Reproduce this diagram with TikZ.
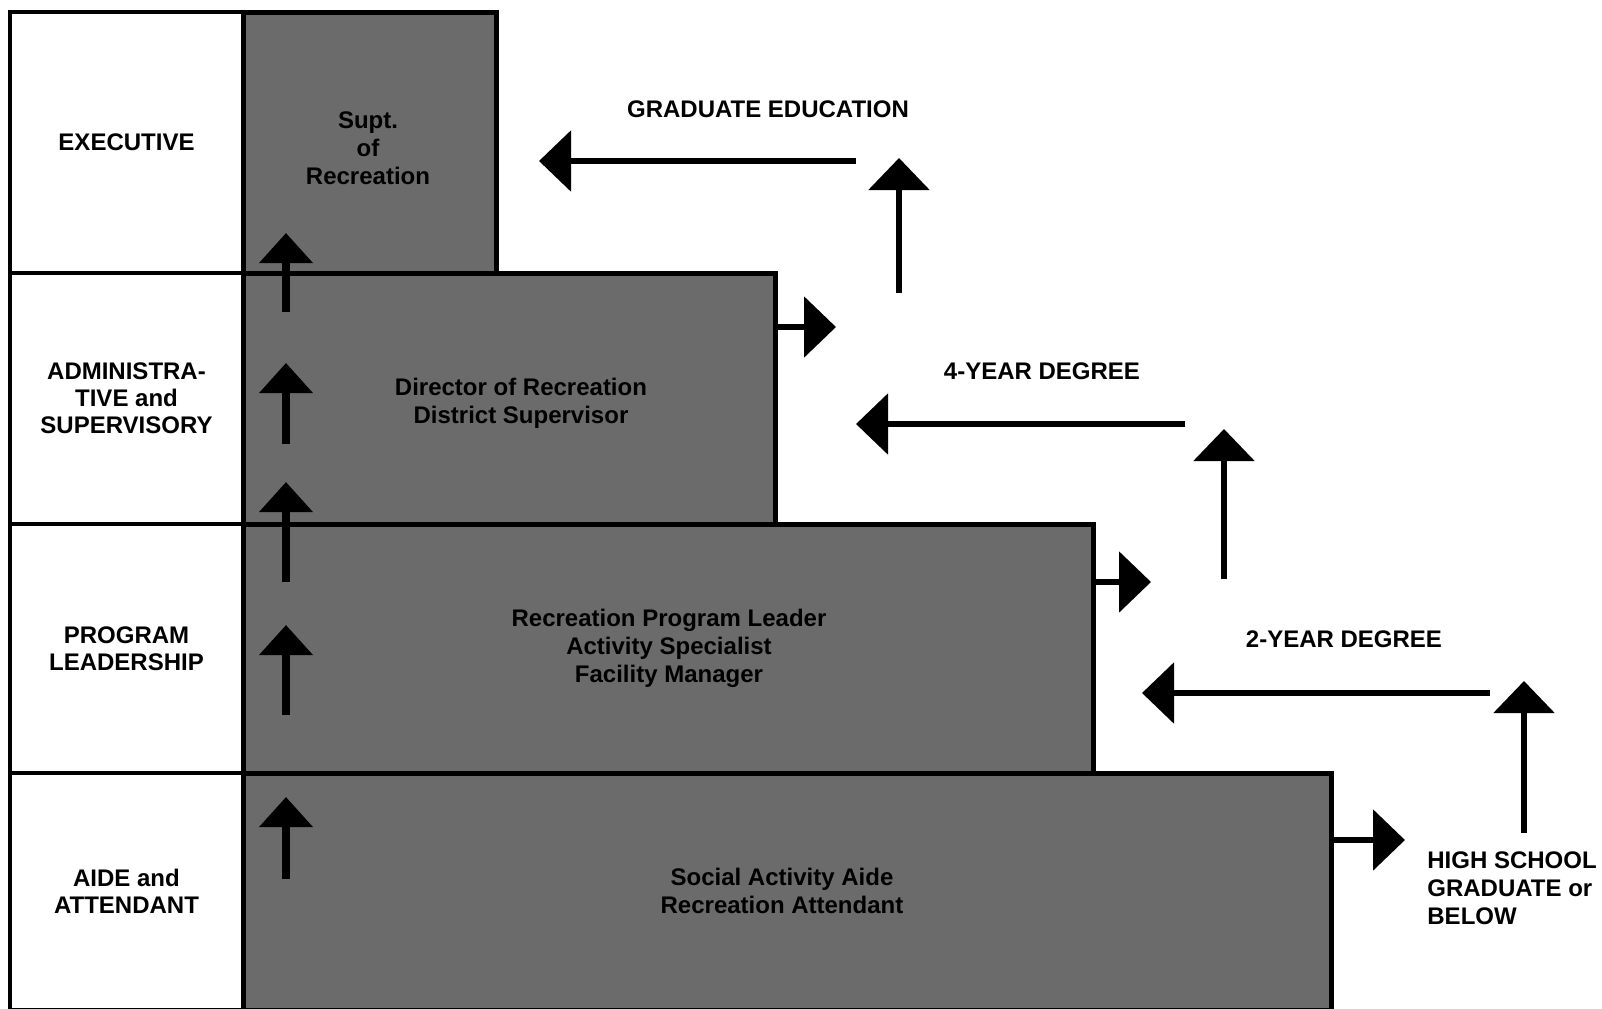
\documentclass[tikz,border=0pt]{standalone}
\usepackage{fontspec}
\setmainfont{Liberation Sans}
\usetikzlibrary{arrows.meta}
\begin{document}
\begin{tikzpicture}[x=0.5pt,y=-0.5pt,
  lbox/.style={draw=black, line width=2pt, fill=white, font=\bfseries\fontsize{12}{13.5}\selectfont, align=center, inner sep=0pt, minimum width=116.5pt},
  dbox/.style={draw=black, line width=2.5pt, fill=black!58, font=\bfseries\fontsize{12}{14}\selectfont, align=center, inner sep=0pt},
  lbl/.style={font=\bfseries\fontsize{12}{14}\selectfont, align=left, inner sep=0pt},
  colarr/.style={line width=4pt, -{Triangle[length=15pt,width=26pt]}},
  bigarr/.style={line width=3pt, -{Triangle[length=16pt,width=30pt]}},
]
\useasboundingbox (0,0) rectangle (1602,1008);
\clip (0,0) rectangle (1602,1008);
\fill[white] (0,0) rectangle (1602,1008);

% left column
\node[lbox, minimum height=130.5pt] (lexec)  at (126.5,142.5) {EXECUTIVE};
\node[lbox, minimum height=125.5pt] (ladmin) at (126.5,398.5) {ADMINISTRA-\\TIVE and\\SUPERVISORY};
\node[lbox, minimum height=124.5pt] (lprog)  at (126.5,648.5) {PROGRAM\\LEADERSHIP};
\node[lbox, minimum height=118.5pt] (laide)  at (126.5,891.5) {AIDE and\\ATTENDANT};

% dark steps
\node[dbox, minimum width=126.5pt, minimum height=130.5pt] (dexec)  at (369.5,142.5) {};
\node[dbox, minimum width=266pt,   minimum height=125.5pt] (dadmin) at (509,398.5) {};
\node[dbox, minimum width=425pt,   minimum height=124.5pt] (dprog)  at (668,648.5) {};
\node[dbox, minimum width=544pt,   minimum height=118.5pt] (daide)  at (787,891.5) {};

\node[lbl, align=center] (texec)  at (368,148) {Supt.\\of\\Recreation};
\node[lbl, align=center] (tadmin) at (521,403) {Director of Recreation\\District Supervisor};
\node[lbl, align=center] (tprog)  at (669,648) {Recreation Program Leader\\Activity Specialist\\Facility Manager};
\node[lbl, align=center] (taide)  at (782,891) {Social Activity Aide\\Recreation Attendant};

% column arrows
\coordinate (c1a) at (286,312); \coordinate (c1b) at (286,233);
\coordinate (c2a) at (286,444); \coordinate (c2b) at (286,363);
\coordinate (c3a) at (286,582); \coordinate (c3b) at (286,482);
\coordinate (c4a) at (286,715); \coordinate (c4b) at (286,625);
\coordinate (c5a) at (286,879); \coordinate (c5b) at (286,797);
\draw[colarr] (c1a) -- (c1b);
\draw[colarr] (c2a) -- (c2b);
\draw[colarr] (c3a) -- (c3b);
\draw[colarr] (c4a) -- (c4b);
\draw[colarr] (c5a) -- (c5b);

% graduate education
\coordinate (r1) at (836,327);
\coordinate (u1a) at (899,293); \coordinate (u1b) at (899,158);
\coordinate (l1a) at (856,161); \coordinate (l1b) at (539,161);
\draw[bigarr] (dadmin.east |- r1) -- (r1);
\draw[bigarr] (u1a) -- (u1b);
\draw[bigarr] (l1a) -- (l1b);
\node[lbl] (grad) at (768,109) {GRADUATE EDUCATION};

% 4-year degree
\coordinate (r2) at (1151,582);
\coordinate (u2a) at (1224,579); \coordinate (u2b) at (1224,429);
\coordinate (l2a) at (1185,424); \coordinate (l2b) at (856,424);
\draw[bigarr] (dprog.east |- r2) -- (r2);
\draw[bigarr] (u2a) -- (u2b);
\draw[bigarr] (l2a) -- (l2b);
\node[lbl] (four) at (1042,371) {4-YEAR DEGREE};

% 2-year degree
\coordinate (r3) at (1405,840);
\coordinate (u3a) at (1524,833); \coordinate (u3b) at (1524,681);
\coordinate (l3a) at (1490,693); \coordinate (l3b) at (1142,693);
\draw[bigarr] (daide.east |- r3) -- (r3);
\draw[bigarr] (u3a) -- (u3b);
\draw[bigarr] (l3a) -- (l3b);
\node[lbl] (two) at (1344,639) {2-YEAR DEGREE};

\node[lbl, anchor=north west] (hs) at (1427,851) {HIGH SCHOOL\\GRADUATE or\\BELOW};
\end{tikzpicture}
\end{document}
